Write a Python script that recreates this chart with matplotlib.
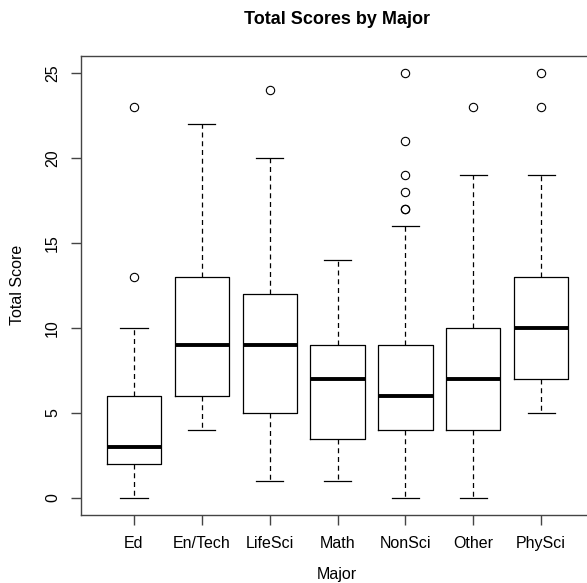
import matplotlib
matplotlib.use("Agg")
import matplotlib.pyplot as plt

plt.rcParams['font.family'] = ['Liberation Sans', 'DejaVu Sans']

# box stats
majors = ["Ed", "En/Tech", "LifeSci", "Math", "NonSci", "Other", "PhySci"]
whislo = [0, 4, 1, 1, 0, 0, 5]
q1 = [2, 6, 5, 3.5, 4, 4, 7]
med = [3, 9, 9, 7, 6, 7, 10]
q3 = [6, 13, 12, 9, 9, 10, 13]
whishi = [10, 22, 20, 14, 16, 19, 19]
fliers = [[13, 23], [], [24], [], [17, 17, 18, 19, 21, 25], [23], [23, 25]]

stats = []
for i in range(len(majors)):
    stats.append(dict(label=majors[i], whislo=whislo[i], q1=q1[i], med=med[i],
                      q3=q3[i], whishi=whishi[i], fliers=fliers[i]))

fig = plt.figure(figsize=(5.87, 5.83), dpi=100)
ax = fig.add_axes([81/587, 68/583, 513/587, 459/583])

ax.bxp(stats, positions=range(1, 8), widths=0.8,
       boxprops=dict(color="black", linewidth=0.9),
       medianprops=dict(color="black", linewidth=2.8, solid_capstyle="butt"),
       whiskerprops=dict(color="black", linewidth=0.9, linestyle=(0, (4, 3))),
       capprops=dict(color="black", linewidth=0.9),
       capwidths=0.4,
       flierprops=dict(marker="o", markersize=6, markerfacecolor="none",
                       markeredgecolor="black", markeredgewidth=0.8))

ax.set_xlim(0.22, 7.78)
ax.set_ylim(-1, 26)
ax.set_yticks([0, 5, 10, 15, 20, 25])
ax.set_xticks(range(1, 8))
ax.set_xticklabels(majors)
for s in ax.spines.values():
    s.set_color("#444444")
    s.set_linewidth(1.0)
ax.spines["right"].set_visible(False)
ax.tick_params(axis="both", direction="out", length=7, width=1.0, color="#444444",
               labelsize=11.5, pad=8)
for t in ax.get_yticklabels():
    t.set_rotation(90)
    t.set_va("center")

cx = 337 / 587
fig.text(cx, 1 - 20/583, "Total Scores by Major", ha="center", va="center",
         fontsize=13, fontweight="bold")
fig.text(cx, 1 - 575/583, "Major", ha="center", va="center", fontsize=11.5)
fig.text(18/587, 1 - 285/583, "Total Score", ha="center", va="center",
         fontsize=11.5, rotation=90)

fig.savefig("out.png", dpi=100)
